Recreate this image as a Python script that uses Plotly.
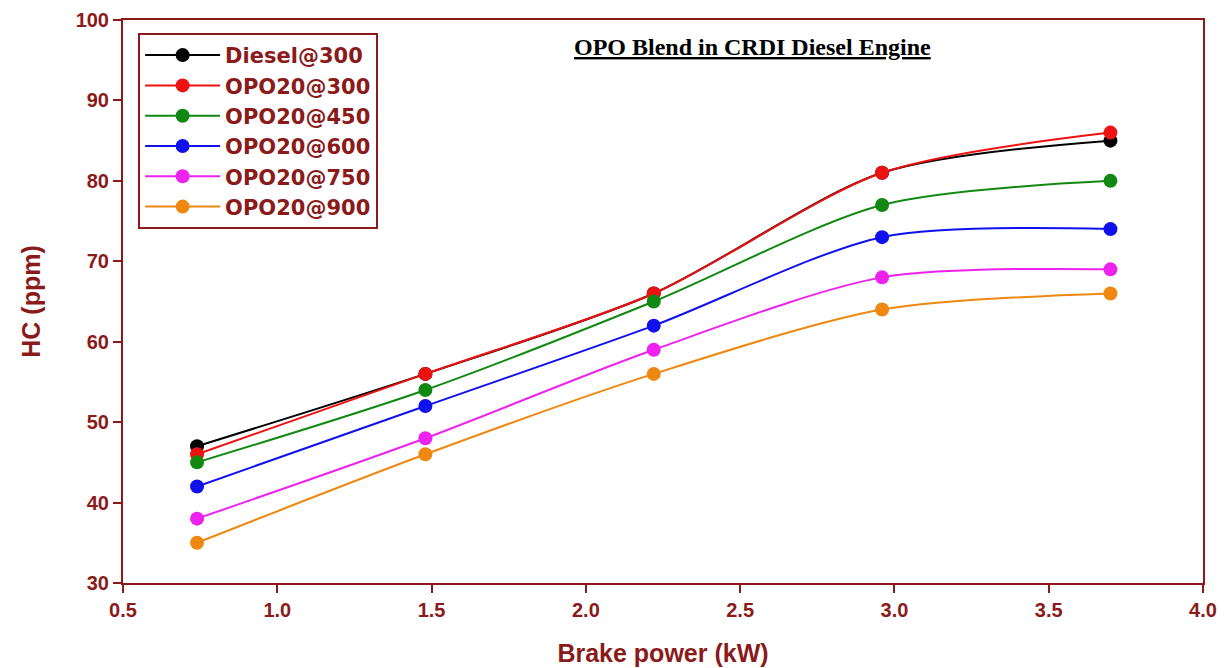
import plotly.graph_objects as go

brake_power = [0.74, 1.48, 2.22, 2.96, 3.70]
series_names = ["Diesel@300", "OPO20@300", "OPO20@450", "OPO20@600", "OPO20@750", "OPO20@900"]
diesel_300 = [47, 56, 66, 81, 85]
opo20_300 = [46, 56, 66, 81, 86]
opo20_450 = [45, 54, 65, 77, 80]
opo20_600 = [42, 52, 62, 73, 74]
opo20_750 = [38, 48, 59, 68, 69]
opo20_900 = [35, 46, 56, 64, 66]
colors = ["#000000", "#EE1111", "#118811", "#1111EE", "#EE22EE", "#EE8811"]

DR = "#8B1A1A"
fig = go.Figure()
for name, vals, c in zip(series_names,
                         [diesel_300, opo20_300, opo20_450, opo20_600, opo20_750, opo20_900],
                         colors):
    fig.add_trace(go.Scatter(
        x=brake_power, y=vals, name="<b>" + name + "</b>", mode="lines+markers",
        line=dict(color=c, width=2, shape="spline", smoothing=0.8),
        marker=dict(color=c, size=14),
    ))

fig.update_layout(
    width=1226, height=668,
    margin=dict(l=123, r=23, t=20, b=85),
    plot_bgcolor="white", paper_bgcolor="white",
    font=dict(family="Liberation Sans, Arial", color=DR),
    showlegend=True,
    legend=dict(
        x=0.014, y=0.977, xanchor="left", yanchor="top",
        bordercolor=DR, borderwidth=2, bgcolor="white",
        font=dict(size=21, color=DR, family="DejaVu Sans, Verdana"),
        itemwidth=75, tracegroupgap=0,
    ),
    annotations=[dict(
        x=0.583, y=0.952, xref="paper", yref="paper", showarrow=False,
        xanchor="center", yanchor="middle",
        text="<b><u>OPO Blend in CRDI Diesel Engine</u></b>",
        font=dict(family="Liberation Serif, Times New Roman", size=24, color="#000000"),
    )],
)
fig.update_xaxes(
    range=[0.5, 4.0], dtick=0.5, tickformat=".1f",
    showgrid=False, zeroline=False, automargin=False,
    showline=True, linecolor=DR, linewidth=2, mirror=True,
    ticks="outside", tickcolor=DR, ticklen=8, tickwidth=2,
    tickfont=dict(size=20, color=DR, family="Liberation Sans, Arial", weight="bold"),
    title=dict(text="<b>Brake power (kW)</b>", font=dict(size=25, color=DR), standoff=24),
)
fig.update_yaxes(
    range=[30, 100], dtick=10,
    showgrid=False, zeroline=False, automargin=False,
    showline=True, linecolor=DR, linewidth=2, mirror=True,
    ticks="outside", tickcolor=DR, ticklen=8, tickwidth=2,
    tickfont=dict(size=20, color=DR, family="Liberation Sans, Arial", weight="bold"),
    title=dict(text="<b>HC (ppm)</b>", font=dict(size=25, color=DR), standoff=28),
)
fig.write_html("out.html")
